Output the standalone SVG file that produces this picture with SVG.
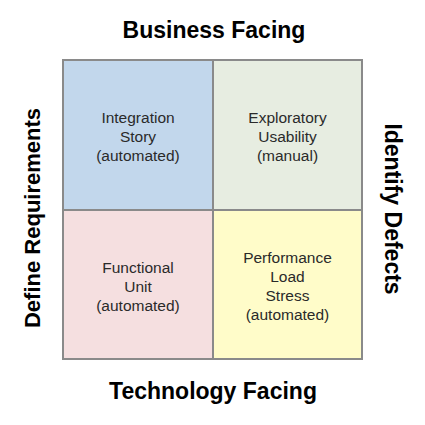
<svg xmlns="http://www.w3.org/2000/svg" width="425" height="425" viewBox="0 0 425 425">
  <style>
    .cell { stroke: #8a8a8a; stroke-width: 2; }
    .lbl { font-family: "Liberation Sans", Arial, sans-serif; font-size: 15.5px; fill: #2a2a2a; text-anchor: middle; }
    .axis { font-family: "Liberation Sans", Arial, sans-serif; font-size: 23px; font-weight: bold; fill: #000; text-anchor: middle; }
  </style>
  <rect width="425" height="425" fill="#ffffff"/>

  <!-- axis titles -->
  <text class="axis" x="214" y="38">Business Facing</text>
  <text class="axis" x="213" y="399">Technology Facing</text>
  <text class="axis" style="font-size:22px" transform="translate(40 218) rotate(-90)">Define Requirements</text>
  <text class="axis" transform="translate(385 209) rotate(90)">Identify Defects</text>

  <!-- quadrants -->
  <g id="q-integration">
    <rect class="cell" x="63" y="60" width="150" height="150" fill="#c2d7ec"/>
    <text class="lbl" x="138" y="123">Integration</text>
    <text class="lbl" x="138" y="142">Story</text>
    <text class="lbl" x="138" y="161">(automated)</text>
  </g>
  <g id="q-exploratory">
    <rect class="cell" x="213" y="60" width="149" height="150" fill="#e7ede1"/>
    <text class="lbl" x="287.5" y="123">Exploratory</text>
    <text class="lbl" x="287.5" y="142">Usability</text>
    <text class="lbl" x="287.5" y="161">(manual)</text>
  </g>
  <g id="q-functional">
    <rect class="cell" x="63" y="210" width="150" height="149" fill="#f5dfe0"/>
    <text class="lbl" x="138" y="273">Functional</text>
    <text class="lbl" x="138" y="292">Unit</text>
    <text class="lbl" x="138" y="311">(automated)</text>
  </g>
  <g id="q-performance">
    <rect class="cell" x="213" y="210" width="149" height="149" fill="#fffcc9"/>
    <text class="lbl" x="287.5" y="263">Performance</text>
    <text class="lbl" x="287.5" y="282">Load</text>
    <text class="lbl" x="287.5" y="301">Stress</text>
    <text class="lbl" x="287.5" y="320">(automated)</text>
  </g>
  <g id="connectors"/>
</svg>
